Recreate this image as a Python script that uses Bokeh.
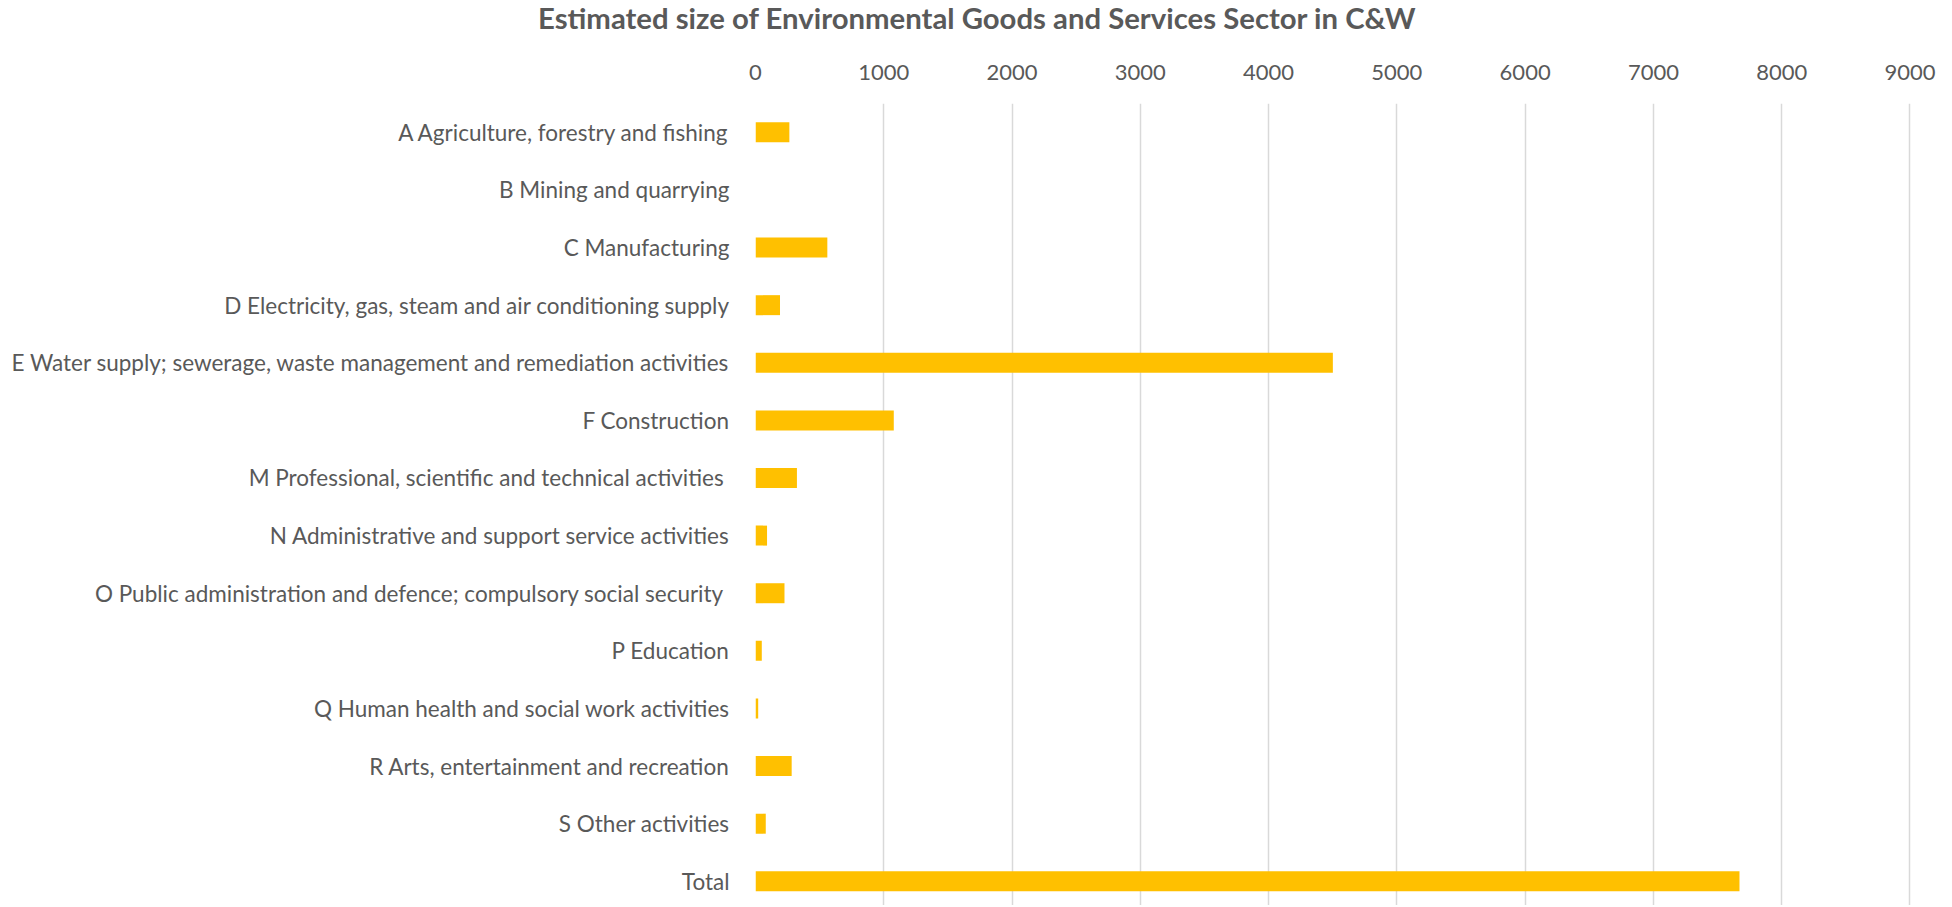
from bokeh.plotting import figure
from bokeh.models import Range1d, FixedTicker, ColumnDataSource, Div
from bokeh.layouts import column
from bokeh.embed import file_html
from bokeh.resources import INLINE
import html

categories = [
    "A Agriculture, forestry and fishing",
    "B Mining and quarrying",
    "C Manufacturing",
    "D Electricity, gas, steam and air conditioning supply",
    "E Water supply; sewerage, waste management and remediation activities",
    "F Construction",
    "M Professional, scientific and technical activities ",
    "N Administrative and support service activities",
    "O Public administration and defence; compulsory social security ",
    "P Education",
    "Q Human health and social work activities",
    "R Arts, entertainment and recreation",
    "S Other activities",
    "Total",
]
values = [264, 0, 560, 191, 4501, 1078, 323, 90, 226, 49, 21, 282, 80, 7671]
x_ticks = [0, 1000, 2000, 3000, 4000, 5000, 6000, 7000, 8000, 9000]
title_text = "Estimated size of Environmental Goods and Services Sector in C&W"

n = len(categories)
ypos = [n - 1 - i for i in range(n)]
src = ColumnDataSource(dict(y=ypos, v=values, name=categories))

TEXT = "#595959"
FONT = "Lato"

title_div = Div(
    text=f'<div style="text-indent:538px;white-space:nowrap;">{html.escape(title_text)}</div>',
    width=1936, height=36, margin=(0, 0, 0, 0),
    styles={"font-family": FONT, "font-size": "29.3px", "font-weight": "bold",
            "color": TEXT, "line-height": "36px"},
)

p = figure(
    width=1936, height=869,
    x_range=Range1d(0, 9090), y_range=Range1d(-0.42, n - 0.5),
    x_axis_location="above",
    output_backend="svg", toolbar_location=None,
    min_border_left=755, min_border_right=15, min_border_top=67, min_border_bottom=0,
    margin=(0, 0, 0, 0),
)
p.hbar(y="y", right="v", left=0, height=0.347, source=src,
       fill_color="#FFC000", line_color=None)

p.outline_line_color = None
p.background_fill_color = "white"
p.border_fill_color = "white"

xa = p.xaxis[0]
xa.ticker = FixedTicker(ticks=x_ticks)
xa.axis_line_color = None
xa.major_tick_line_color = None
xa.minor_tick_line_color = None
xa.major_label_text_font = FONT
xa.major_label_text_font_size = "22px"
xa.major_label_text_color = TEXT
xa.major_label_standoff = 18

ya = p.yaxis[0]
ya.ticker = FixedTicker(ticks=ypos)
ya.major_label_overrides = {y: c for y, c in zip(ypos, categories)}
ya.axis_line_color = None
ya.major_tick_line_color = None
ya.minor_tick_line_color = None
ya.major_label_text_font = FONT
ya.major_label_text_font_size = "22.5px"
ya.major_label_text_color = TEXT
ya.major_label_standoff = 20

p.ygrid.grid_line_color = None
p.xgrid.grid_line_color = "#D9D9D9"
p.xgrid.grid_line_width = 1.5

layout = column(title_div, p, spacing=0)
open("out.html", "w").write(file_html(layout, INLINE))
